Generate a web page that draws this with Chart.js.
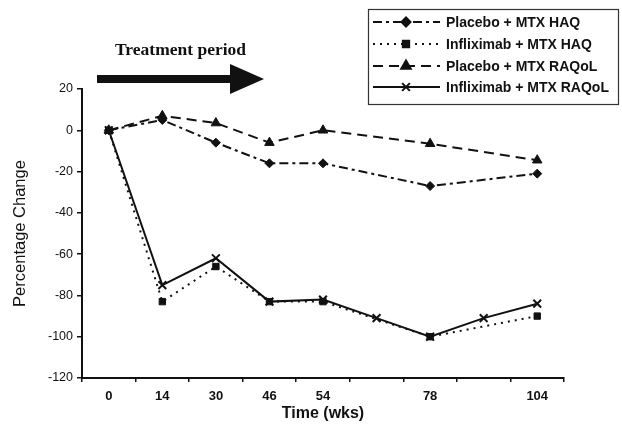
<!DOCTYPE html>
<html>
<head>
<meta charset="utf-8">
<script src="https://cdn.jsdelivr.net/npm/chart.js@4"></script>
<style>
  html, body { margin: 0; padding: 0; background: #fff; }
  #wrap { width: 622px; height: 427px; }
</style>
</head>
<body>
<div id="wrap"><canvas id="chart" width="622" height="427"></canvas></div>
<script>
// time points (blank labels are the unlabelled visits)
const weeks = ["0", "14", "30", "46", "54", "", "78", "", "104"];

const placeboHAQ     = [0, 5, -6, -16, -16, null, -27, null, -21];
const inflixHAQ      = [0, -83, -66, -83, -83, null, -100, null, -90];
const placeboRAQoL   = [0, 7, 3.5, -6, 0, null, -6.5, null, -14.5];
const inflixRAQoL    = [0, -75, -62, -83, -82, -91, -100, -91, -84];

const seriesNames = [
  "Placebo + MTX HAQ",
  "Infliximab + MTX HAQ",
  "Placebo + MTX RAQoL",
  "Infliximab + MTX RAQoL"
];

const yTicks = [20, 0, -20, -40, -60, -80, -100, -120];

const ink = "#111";
const PLOT = { left: 82, top: 89, right: 564, bottom: 378 };

function series(label, data, style, dash, radius) {
  return {
    label: label,
    data: data,
    borderColor: ink,
    backgroundColor: ink,
    borderWidth: 2,
    borderDash: dash,
    pointStyle: style,
    pointRadius: radius,
    pointBorderWidth: style === "crossRot" ? 2 : 1,
    pointBorderColor: ink,
    pointBackgroundColor: ink,
    tension: 0,
    spanGaps: true
  };
}

// legend box + treatment arrow drawn on top
const extras = {
  id: "extras",
  afterDraw(chart) {
    const ctx = chart.ctx;
    ctx.save();

    // treatment period title and arrow
    ctx.fillStyle = ink;
    ctx.font = "bold 17.5px 'Liberation Serif', 'Times New Roman', serif";
    ctx.textAlign = "left";
    ctx.textBaseline = "alphabetic";
    ctx.fillText("Treatment period", 115, 55);
    ctx.fillRect(97, 75, 136, 8);
    ctx.beginPath();
    ctx.moveTo(230, 64);
    ctx.lineTo(264, 79);
    ctx.lineTo(230, 94);
    ctx.closePath();
    ctx.fill();

    // legend box
    ctx.strokeStyle = "#333";
    ctx.lineWidth = 1.2;
    ctx.strokeRect(368.5, 9.5, 250, 95);
    const rows = [22, 44, 66, 87];
    chart.data.datasets.forEach((ds, i) => {
      const y = rows[i];
      ctx.strokeStyle = ink;
      ctx.lineWidth = 2;
      ctx.setLineDash(ds.borderDash || []);
      ctx.beginPath();
      ctx.moveTo(373, y);
      ctx.lineTo(440, y);
      ctx.stroke();
      ctx.setLineDash([]);
      Chart.helpers.drawPoint(ctx, {
        pointStyle: ds.pointStyle,
        radius: ds.pointRadius,
        borderWidth: ds.pointBorderWidth,
        rotation: 0
      }, 406, y);
      ctx.fillStyle = ink;
      ctx.font = "bold 14px 'Liberation Sans', Arial, sans-serif";
      ctx.textBaseline = "middle";
      ctx.fillText(ds.label, 446, y + 1);
    });
    ctx.restore();
  }
};

new Chart(document.getElementById("chart"), {
  type: "line",
  data: {
    labels: weeks,
    datasets: [
      series(seriesNames[0], placeboHAQ, "rectRot", [9, 4, 3, 4], 4.5),
      series(seriesNames[1], inflixHAQ, "rect", [2, 5], 4.5),
      series(seriesNames[2], placeboRAQoL, "triangle", [10, 6], 5.5),
      series(seriesNames[3], inflixRAQoL, "crossRot", [], 5.5)
    ]
  },
  options: {
    responsive: false,
    animation: false,
    layout: {
      padding: { top: PLOT.top, right: 622 - PLOT.right, left: 0, bottom: 0 }
    },
    plugins: {
      legend: { display: false },
      tooltip: { enabled: false }
    },
    scales: {
      x: {
        type: "category",
        offset: true,
        grid: {
          offset: true,
          drawOnChartArea: false,
          drawTicks: true,
          tickLength: 4,
          color: ink,
          lineWidth: 1.5
        },
        border: { display: true, color: ink, width: 2 },
        ticks: {
          color: ink,
          autoSkip: false,
          maxRotation: 0,
          padding: 7,
          font: { family: "'Liberation Sans', Arial, sans-serif", size: 13, weight: "bold" }
        },
        title: {
          display: true,
          text: "Time (wks)",
          color: ink,
          padding: { top: 0, bottom: 4 },
          font: { family: "'Liberation Sans', Arial, sans-serif", size: 16, weight: "bold" }
        },
        afterFit(scale) { scale.height = 427 - PLOT.bottom; }
      },
      y: {
        min: -120,
        max: 20,
        grid: {
          drawOnChartArea: false,
          drawTicks: true,
          tickLength: 5,
          color: ink,
          lineWidth: 1.5
        },
        border: { display: true, color: ink, width: 2 },
        afterBuildTicks(scale) {
          scale.ticks = yTicks.map(v => ({ value: v }));
        },
        ticks: {
          color: ink,
          padding: 4,
          font: { family: "'Liberation Sans', Arial, sans-serif", size: 12.5 }
        },
        title: {
          display: true,
          text: "Percentage Change",
          color: ink,
          padding: { top: 11, bottom: 6 },
          font: { family: "'Liberation Sans', Arial, sans-serif", size: 16.5 }
        },
        afterFit(scale) { scale.width = PLOT.left; }
      }
    }
  },
  plugins: [extras]
});
</script>
</body>
</html>
